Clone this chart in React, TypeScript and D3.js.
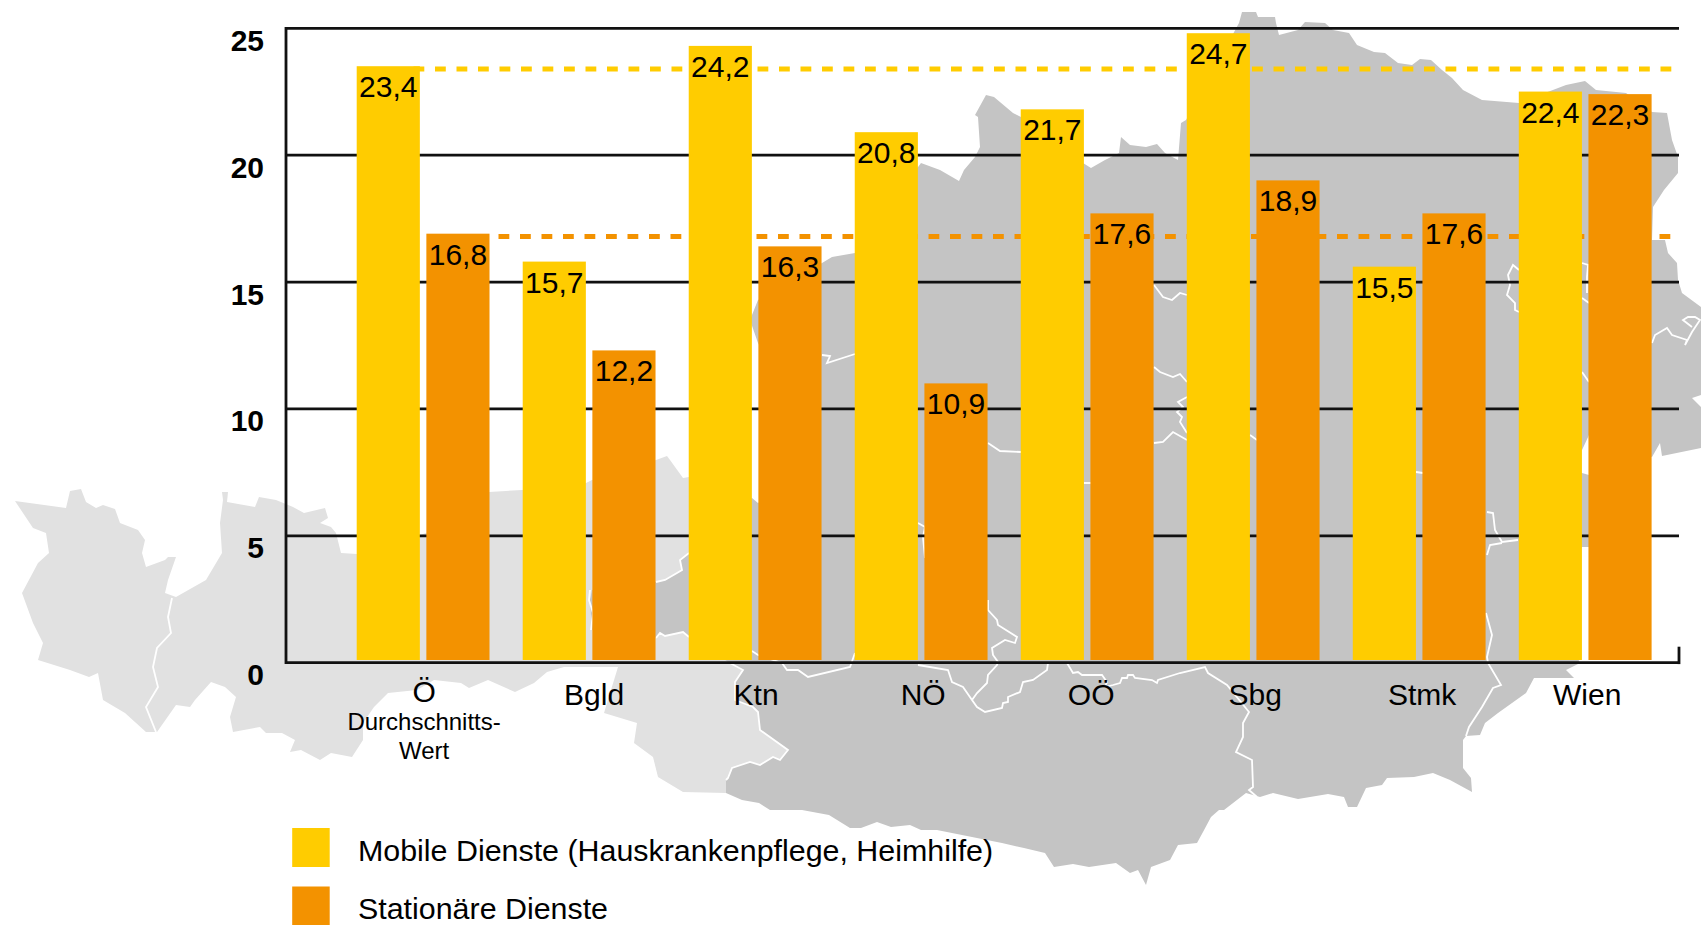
import React, { useEffect, useRef } from "react";
import * as d3 from "d3";

const categories = ["Ö", "Bgld", "Ktn", "NÖ", "OÖ", "Sbg", "Stmk", "Wien"];
const seriesNames = ["Mobile Dienste (Hauskrankenpflege, Heimhilfe)", "Stationäre Dienste"];
const mobile = [23.4, 15.7, 24.2, 20.8, 21.7, 24.7, 15.5, 22.4];
const stationaer = [16.8, 12.2, 16.3, 10.9, 17.6, 18.9, 17.6, 22.3];
const yTicks = [0, 5, 10, 15, 20, 25];
const subLabel = ["Durchschnitts-", "Wert"];

const YELLOW = "#ffcc00";
const ORANGE = "#f39200";
const MAP_DARK = "#c4c4c4";
const MAP_LIGHT = "#e1e1e1";

// background map of Austria, traced by hand (page coordinates), not data
type Pt = [number, number];
const westOutline: Pt[] = [
  [15,501],[66,508],[70,491],[81,489],[86,502],[96,508],[103,505],[115,509],[120,523],[138,530],[145,540],[142,553],
  [146,567],[165,560],[168,557],[176,557],[168,580],[165,593],[176,597],[206,580],[222,553],[220,523],[223,500],[222,492],
  [228,492],[227,502],[255,507],[259,497],[276,500],[293,507],[304,513],[325,508],[328,518],[320,523],[331,527],[336,533],
  [341,553],[357,554],[420,535],[426,533],[489,492],[522,490],[586,483],[592,480],[656,460],[667,456],[670,460],[683,478],
  [689,477],[752,498],[800,640],[800,770],[726,793],[683,792],[658,777],[653,757],[634,743],[637,723],[604,713],[618,667],[564,667],
  [547,672],[534,683],[515,692],[488,680],[469,688],[461,683],[434,680],[417,690],[388,693],[374,707],[363,723],[363,740],
  [352,757],[331,753],[320,760],[301,750],[290,752],[295,740],[282,733],[266,733],[260,727],[233,732],[230,717],[236,697],
  [225,687],[211,682],[195,700],[190,707],[176,705],[157,732],[146,732],[125,713],[103,700],[98,673],[89,677],[70,670],
  [38,660],[43,643],[33,623],[22,593],[38,563],[49,553],[46,533],[33,528],
];
const eastOutline: Pt[] = [
  [1239,23],[1242,12],[1256,12],[1258,17],[1275,17],[1276,23],[1279,35],[1298,30],[1305,22],[1325,23],[1333,30],[1349,33],
  [1357,45],[1374,52],[1385,53],[1398,63],[1412,65],[1420,59],[1431,60],[1442,70],[1452,78],[1463,90],[1482,100],[1519,103],
  [1566,85],[1585,81],[1596,90],[1626,93],[1652,112],[1667,113],[1672,140],[1678,157],[1678,173],[1664,190],[1653,207],[1652,240],
  [1665,240],[1668,253],[1677,263],[1678,280],[1682,293],[1701,307],[1701,395],[1692,398],[1701,407],[1701,448],[1662,456],[1660,443],
  [1652,457],[1600,445],[1589,435],[1582,450],[1560,458],[1582,473],[1589,475],[1600,500],[1589,547],[1582,547],[1550,600],[1580,663],
  [1566,670],[1574,678],[1534,678],[1526,693],[1512,703],[1498,713],[1485,723],[1480,735],[1466,736],[1463,740],[1463,768],[1471,778],
  [1472,792],[1450,780],[1433,773],[1414,777],[1387,778],[1382,785],[1366,788],[1357,807],[1348,807],[1344,797],[1328,794],[1298,799],
  [1273,793],[1260,797],[1246,793],[1224,810],[1219,810],[1211,817],[1203,832],[1197,843],[1178,845],[1170,860],[1151,867],[1146,885],
  [1138,870],[1130,873],[1116,863],[1089,867],[1073,864],[1054,867],[1045,853],[1024,848],[1002,843],[972,837],[937,830],[921,830],
  [910,825],[891,827],[877,822],[861,828],[850,828],[829,815],[802,810],[770,810],[759,803],[742,800],[726,793],[726,780],
  [728,778],[732,768],[750,762],[760,765],[773,757],[780,760],[788,750],[760,730],[758,712],[753,707],[735,700],[735,682],
  [743,670],[730,663],[689,637],[683,632],[665,636],[660,633],[656,638],[640,636],[592,630],[590,600],[592,590],[656,582],
  [665,580],[677,573],[682,570],[680,560],[689,553],[752,498],[758,503],[790,480],[800,420],[758,343],[750,320],[758,300],
  [822,263],[832,257],[855,253],[921,163],[940,170],[959,181],[964,170],[975,157],[980,147],[978,117],[975,115],[986,95],
  [994,97],[1013,113],[1021,117],[1083,163],[1091,168],[1105,160],[1119,153],[1121,137],[1130,145],[1146,147],[1157,144],[1165,153],
  [1178,160],[1181,123],[1186,120],
];
const borders: Pt[][] = [
  [[172,598],[168,617],[171,633],[157,648],[153,667],[158,687],[146,707],[156,732]],
  [[590,590],[589,600],[593,613],[591,630]],
  [[656,582],[665,580],[677,573],[682,570],[680,560],[689,553]],
  [[656,638],[660,633],[665,636],[683,632],[689,637]],
  [[730,663],[743,670],[735,682],[735,700],[753,707],[758,712],[760,730],[788,750],[780,760],[773,757],[760,765],[750,762],[732,768],[728,778],[726,780]],
  [[752,651],[758,655],[782,663],[787,670],[798,670],[808,677],[850,667],[855,653]],
  [[918,665],[948,670],[952,682],[963,687],[972,700],[977,707],[985,712],[1002,708],[1003,703],[1008,702],[1008,697],[1020,692],[1023,682],[1033,680],[1047,670],[1048,663]],
  [[972,700],[977,693],[987,683],[988,675],[997,665],[998,662],[993,655],[992,648],[1005,640],[1015,643],[1017,637],[998,625],[997,620],[988,610],[988,600]],
  [[918,523],[925,527],[923,537],[925,558]],
  [[1067,663],[1073,673],[1078,672],[1082,675],[1102,675],[1107,682],[1105,687],[1113,685],[1120,683],[1122,678],[1127,678],[1128,675],[1133,675],[1135,678],[1152,680],[1157,683],[1158,680],[1180,673],[1205,667],[1208,673],[1227,685],[1249,712],[1243,723],[1243,737],[1236,752],[1252,760],[1253,787],[1249,790],[1257,797]],
  [[1486,613],[1492,635],[1487,657],[1488,663],[1501,685],[1493,688],[1482,707],[1469,727],[1466,736]],
  [[1487,512],[1493,513],[1495,530],[1502,542],[1518,540]],
  [[1487,555],[1490,545],[1502,543]],
  [[1519,270],[1513,265],[1508,275],[1510,285],[1507,295],[1515,303],[1515,310],[1519,312]],
  [[1582,263],[1588,265],[1587,277],[1587,293]],
  [[1582,298],[1589,303]],
  [[1582,372],[1589,382]],
  [[1652,343],[1655,335],[1667,328],[1672,335],[1687,340],[1685,345],[1692,332],[1700,320],[1695,317],[1688,317],[1683,320],[1692,327]],
  // inner lines seen between the bars in the middle of the chart
  [[1154,285],[1163,297],[1172,300],[1180,293],[1187,295]],
  [[1154,367],[1160,372],[1173,377],[1180,374],[1187,382]],
  [[1187,397],[1178,402],[1183,407],[1177,412],[1182,417],[1180,422],[1187,433]],
  [[1154,443],[1163,442],[1173,432],[1187,440]],
  [[988,443],[1000,451],[1021,452]],
  [[1084,483],[1091,483]],
  [[1416,472],[1423,473]],
  [[1250,435],[1257,440]],
  [[822,355],[830,356],[827,363],[855,354]],
];

// small per-label shifts, the reference labels are not quite centred
const labelNudgeX = [1, 5, 1, 2, 4, 2, 3, 2];
const labelNudgeY = [-3, 0, 0, 0, 0, 0, 0, 0];

const W = 1701;
const H = 925;
const left = 286;
const right = 1679;
const yTop = 28.3;
const yBottom = 662.7;
const barLift = 2.7;

export default function App() {
  const ref = useRef<SVGSVGElement>(null);

  useEffect(() => {
    const svg = d3.select(ref.current);
    svg.selectAll("*").remove();

    const y = d3.scaleLinear().domain([0, 25]).range([yBottom, yTop]);
    const x0 = d3.scaleBand<string>().domain(categories).range([356.7, 1651.6]).paddingInner(0.2);
    const x1 = d3.scaleBand<string>().domain(["m", "s"]).range([0, x0.bandwidth()]).paddingInner(0.0935);
    const num = d3.formatLocale({ decimal: ",", thousands: ".", grouping: [3], currency: ["", ""] }).format(".1f");
    const path = d3.line();

    // map
    const map = svg.append("g");
    map.append("path").attr("d", path(westOutline) + "Z").attr("fill", MAP_LIGHT);
    map.append("path").attr("d", path(eastOutline) + "Z").attr("fill", MAP_DARK);
    map.selectAll(".border").data(borders).enter().append("path")
      .attr("class", "border")
      .attr("d", (d) => path(d))
      .attr("fill", "none")
      .attr("stroke", "#fff")
      .attr("stroke-width", 1.8);

    // gridlines and the y axis frame
    const grid = svg.append("g").attr("stroke", "#111").attr("stroke-width", 2.8);
    grid.selectAll("line").data(yTicks).enter().append("line")
      .attr("x1", left).attr("x2", right)
      .attr("y1", (d) => y(d)).attr("y2", (d) => y(d));
    grid.append("line").attr("x1", left).attr("x2", left).attr("y1", y(25) - 1.4).attr("y2", y(0) + 1.4);
    grid.append("line").attr("x1", right).attr("x2", right).attr("y1", y(0) - 16).attr("y2", y(0) + 1.4);

    const yAxis = svg.append("g")
      .attr("transform", `translate(264,0)`)
      .call(d3.axisLeft(y).tickValues(yTicks).tickSize(0).tickPadding(0));
    yAxis.select(".domain").remove();
    yAxis.selectAll("text")
      .attr("dy", 22)
      .attr("font-family", "Liberation Sans")
      .attr("font-size", 30)
      .attr("font-weight", "bold")
      .attr("fill", "#000");

    // average lines, taken from the Ö group
    const avg = [
      { v: mobile[0], color: YELLOW, start: 413.5 },
      { v: stationaer[0], color: ORANGE, start: 498.5 },
    ];
    svg.append("g").selectAll("line").data(avg).enter().append("line")
      .attr("x1", (d) => d.start).attr("x2", right + 1)
      .attr("y1", (d) => y(d.v)).attr("y2", (d) => y(d.v))
      .attr("stroke", (d) => d.color)
      .attr("stroke-width", 5)
      .attr("stroke-dasharray", "10.8 10.7");

    // bars
    const series = [
      { key: "m", values: mobile, color: YELLOW },
      { key: "s", values: stationaer, color: ORANGE },
    ];
    const bars = svg.append("g").attr("transform", `translate(0,${-barLift})`);
    series.forEach((s) => {
      const g = bars.append("g");
      g.selectAll("rect").data(s.values).enter().append("rect")
        .attr("x", (d, i) => x0(categories[i])! + x1(s.key)!)
        .attr("width", x1.bandwidth())
        .attr("y", (d) => y(d))
        .attr("height", (d) => y(0) - y(d))
        .attr("fill", s.color);
      g.selectAll("text").data(s.values).enter().append("text")
        .attr("x", (d, i) => x0(categories[i])! + x1(s.key)! + x1.bandwidth() / 2)
        .attr("y", (d) => y(d) + 31)
        .attr("text-anchor", "middle")
        .attr("font-family", "Liberation Sans")
        .attr("font-size", 30)
        .attr("fill", "#000")
        .text((d) => num(d));
    });

    // category labels
    const xAxis = svg.append("g")
      .attr("transform", `translate(0,${yBottom})`)
      .call(d3.axisBottom(x0).tickSize(0).tickPadding(0));
    xAxis.select(".domain").remove();
    xAxis.selectAll("text")
      .attr("x", (d, i) => labelNudgeX[i])
      .attr("y", (d, i) => 42 + labelNudgeY[i])
      .attr("dy", 0)
      .attr("font-family", "Liberation Sans")
      .attr("font-size", 30)
      .attr("fill", "#000");

    svg.append("g").selectAll("text").data(subLabel).enter().append("text")
      .attr("x", x0("Ö")! + x0.bandwidth() / 2 + 1)
      .attr("y", (d, i) => 730 + i * 28.5)
      .attr("text-anchor", "middle")
      .attr("font-family", "Liberation Sans")
      .attr("font-size", 24)
      .attr("fill", "#000")
      .text((d) => d);

    // legend
    const legend = svg.append("g").selectAll("g").data(seriesNames).enter().append("g")
      .attr("transform", (d, i) => `translate(292.2,${828 + i * 58.5})`);
    legend.append("rect")
      .attr("width", 37.5)
      .attr("height", 39)
      .attr("fill", (d, i) => series[i].color);
    legend.append("text")
      .attr("x", 65.8)
      .attr("y", 32.5)
      .attr("font-family", "Liberation Sans")
      .attr("font-size", 30.4)
      .attr("fill", "#000")
      .text((d) => d);
  }, []);

  return (
    <svg
      ref={ref}
      width={W}
      height={H}
      style={{ position: "absolute", left: 0, top: 0, background: "#fff" }}
    />
  );
}
